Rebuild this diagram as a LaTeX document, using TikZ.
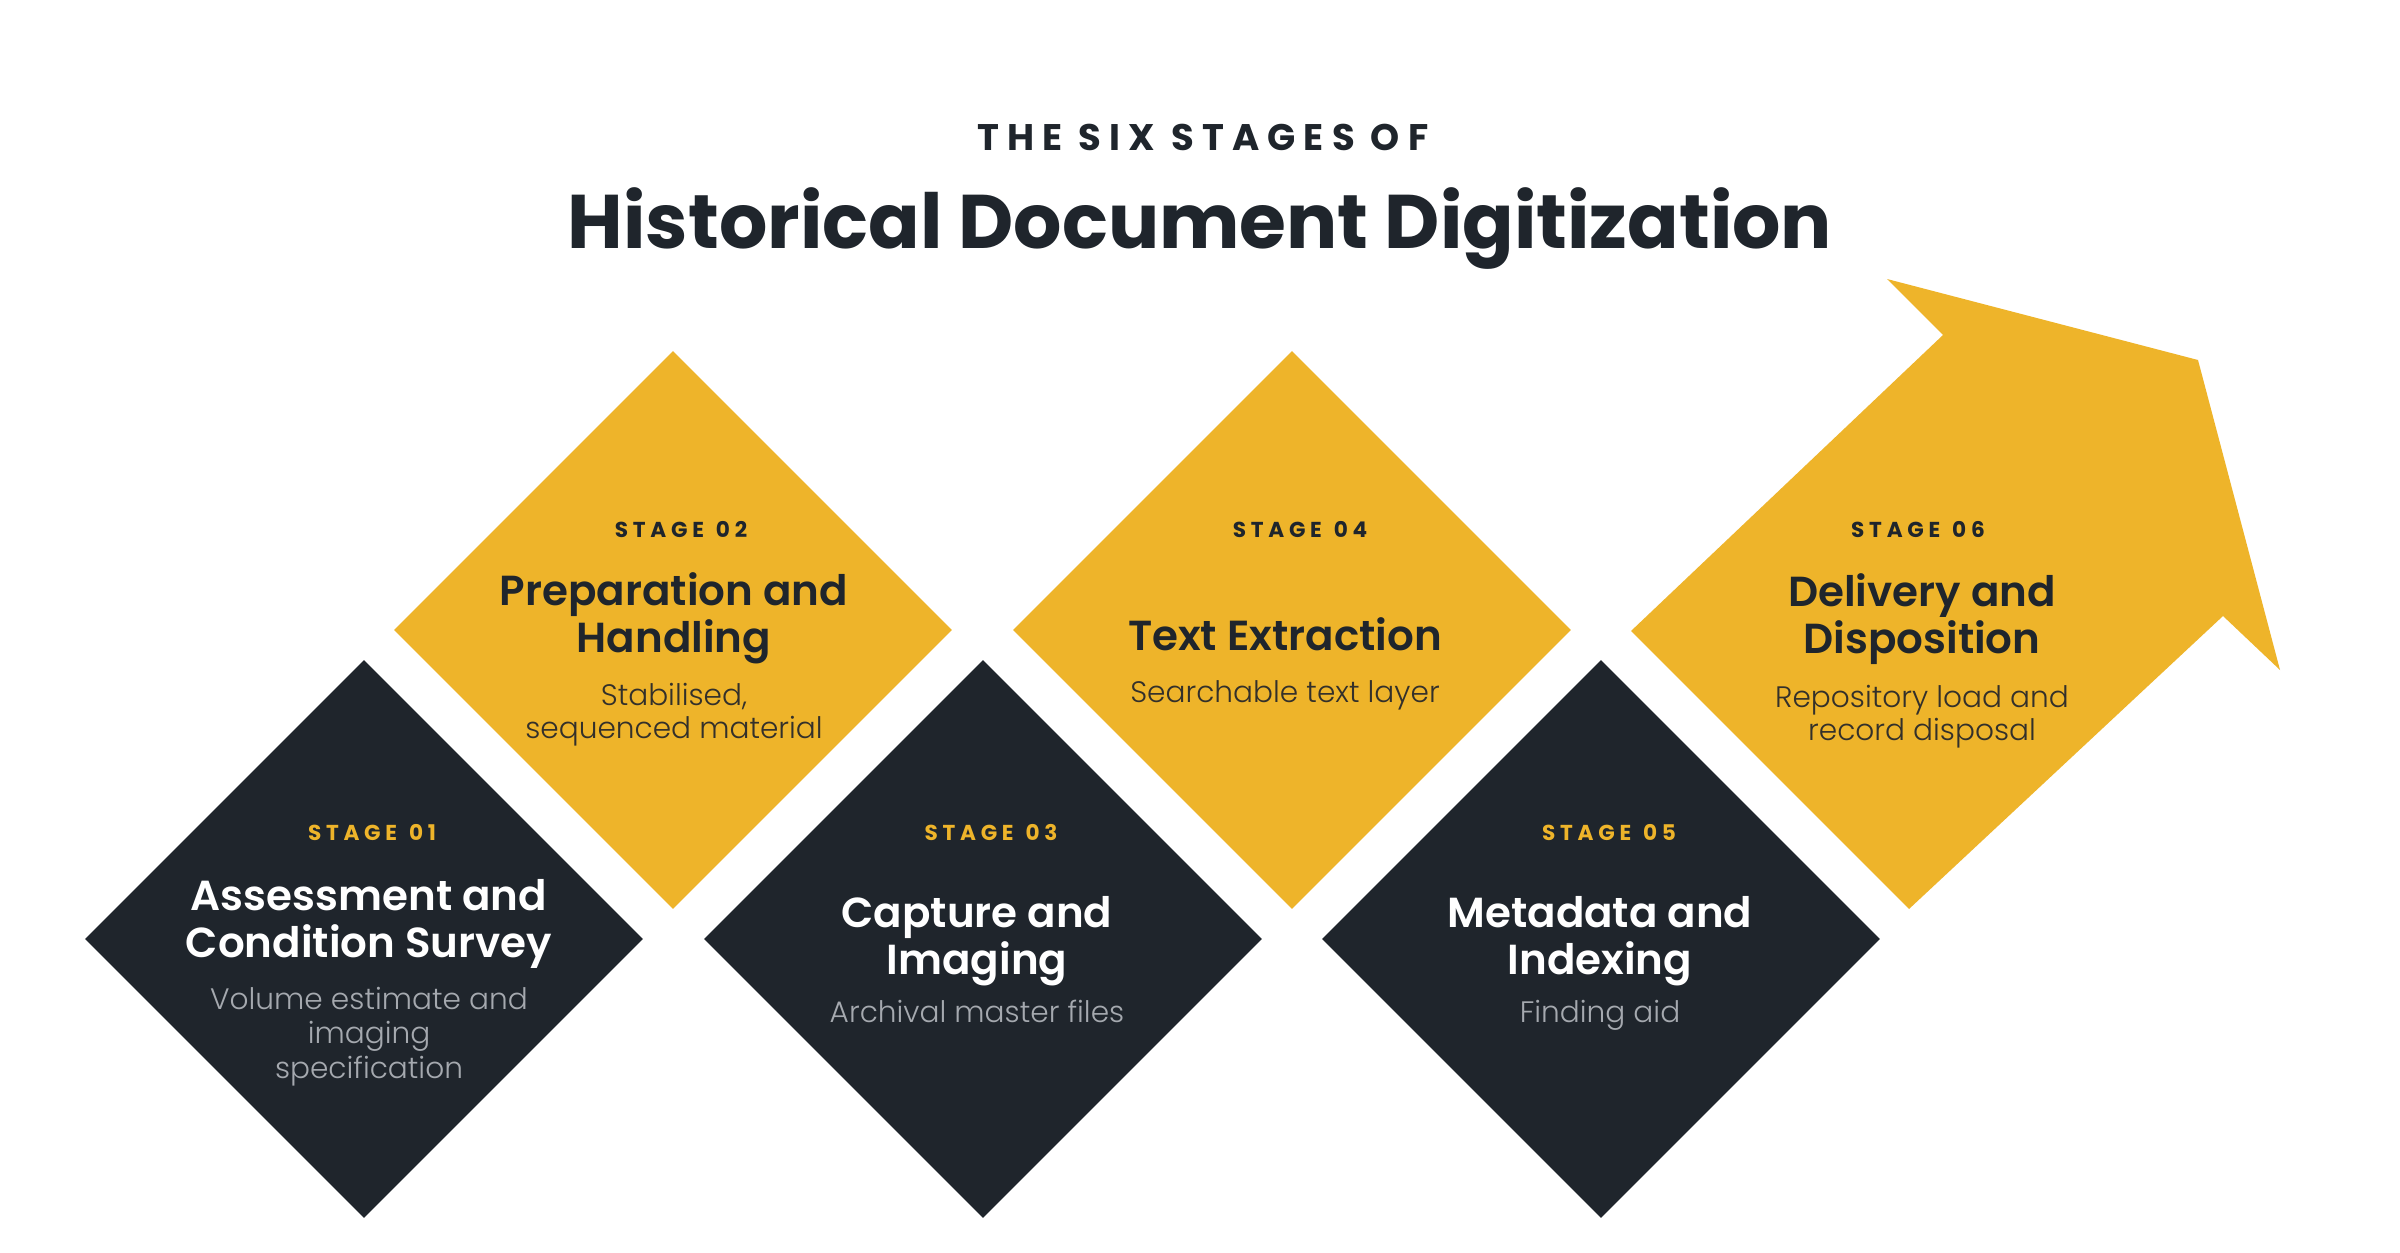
\documentclass[tikz,border=0pt]{standalone}
\usepackage{fontspec}
\setmainfont{Poppins}[BoldFont={Poppins SemiBold}]
\newfontfamily\lightfont{Poppins Light}
\newfontfamily\heavyfont{Poppins Bold}
\usetikzlibrary{shapes.geometric}
\definecolor{gold}{HTML}{EEB42A}
\definecolor{ink}{HTML}{1F252C}
\definecolor{mist}{HTML}{A5A9AF}
\definecolor{inkdesc}{HTML}{33302A}
\newcommand{\stagetag}[1]{STAGE\hspace{0.55em}#1}
\begin{document}
\begin{tikzpicture}[x=0.5pt,y=-0.5pt,
  tile/.style={diamond, aspect=1, inner sep=0pt, minimum size=279pt, draw=none},
  darktile/.style={tile, fill=ink},
  goldtile/.style={tile, fill=gold},
  txt/.style={anchor=base, inner sep=0pt, outer sep=0pt},
  stagelbl/.style={txt, font={\heavyfont\addfontfeatures{LetterSpace=22}\fontsize{10.8}{12}\selectfont}},
  ttl/.style={txt, font={\bfseries\fontsize{21}{24}\selectfont}},
  dsc/.style={txt, font={\lightfont\fontsize{14.8}{17}\selectfont}},
  ondark/.style={text=white},
  ongold/.style={text=ink},
  dscdark/.style={dsc, text=mist},
  dscgold/.style={dsc, text=inkdesc}
]
\useasboundingbox (0,0) rectangle (2400,1253);
\fill[white] (0,0) rectangle (2400,1253);

% header
\node[txt, text=ink, font={\heavyfont\addfontfeatures{LetterSpace=22}\fontsize{18.5}{21}\selectfont}] (kicker) at (1203,150) {THE SIX STAGES OF};
\node[txt, text=ink, font={\heavyfont\fontsize{38}{44}\selectfont}] (headline) at (1200,248) {Historical Document Digitization};

% tiles
\node[darktile] (d1) at (364,939) {};
\node[goldtile] (d2) at (673,630) {};
\node[darktile] (d3) at (983,939) {};
\node[goldtile] (d4) at (1292,630) {};
\node[darktile] (d5) at (1601,939) {};
\fill[gold] (1631,631) -- (1943,335) -- (1887,279) -- (2198,360) -- (2280,670) -- (2223,616) -- (1909,909) -- cycle;
\coordinate (d6) at (1910,631);

% stage 01
\node[stagelbl, text=gold] (s1) at (372,840) {\stagetag{01}};
\node[ttl, ondark] (t1a) at (369,910) {Assessment and};
\node[ttl, ondark] (t1b) at (369,957) {Condition Survey};
\node[dscdark] (e1a) at (369,1009) {Volume estimate and};
\node[dscdark] (e1b) at (369,1043) {imaging};
\node[dscdark] (e1c) at (369,1078) {specification};

% stage 02
\node[stagelbl, text=ink] (s2) at (681,537) {\stagetag{02}};
\node[ttl, ongold] (t2a) at (674,605) {Preparation and};
\node[ttl, ongold] (t2b) at (674,652) {Handling};
\node[dscgold] (e2a) at (674,705) {Stabilised,};
\node[dscgold] (e2b) at (674,738) {sequenced material};

% stage 03
\node[stagelbl, text=gold] (s3) at (991,840) {\stagetag{03}};
\node[ttl, ondark] (t3a) at (977,927) {Capture and};
\node[ttl, ondark] (t3b) at (977,974) {Imaging};
\node[dscdark] (e3a) at (977,1022) {Archival master files};

% stage 04
\node[stagelbl, text=ink] (s4) at (1300,537) {\stagetag{04}};
\node[ttl, ongold] (t4a) at (1285,650) {Text Extraction};
\node[dscgold] (e4a) at (1285,702) {Searchable text layer};

% stage 05
\node[stagelbl, text=gold] (s5) at (1609,840) {\stagetag{05}};
\node[ttl, ondark] (t5a) at (1600,927) {Metadata and};
\node[ttl, ondark] (t5b) at (1600,974) {Indexing};
\node[dscdark] (e5a) at (1600,1022) {Finding aid};

% stage 06
\node[stagelbl, text=ink] (s6) at (1918,537) {\stagetag{06}};
\node[ttl, ongold] (t6a) at (1922,606) {Delivery and};
\node[ttl, ongold] (t6b) at (1922,653) {Disposition};
\node[dscgold] (e6a) at (1922,707) {Repository load and};
\node[dscgold] (e6b) at (1922,740) {record disposal};
\end{tikzpicture}
\end{document}
